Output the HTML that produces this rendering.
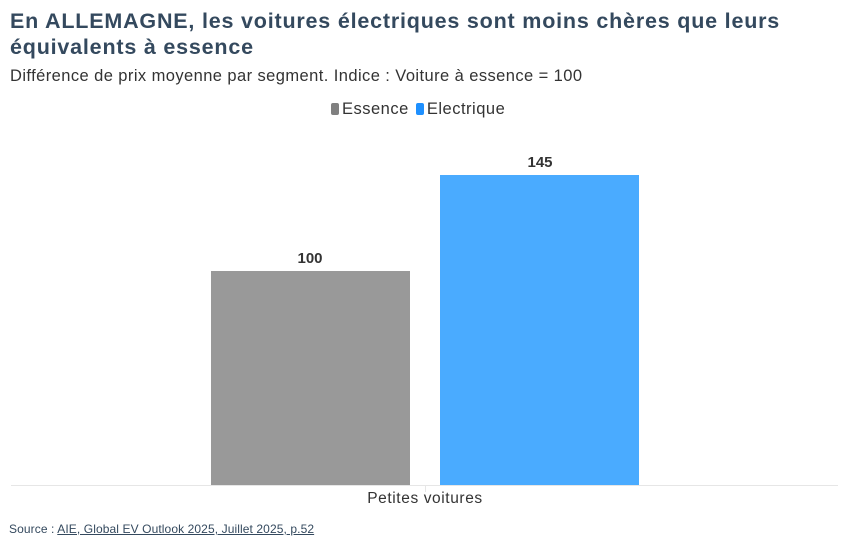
<!DOCTYPE html>
<html><head><meta charset="utf-8"><style>
body{margin:0;width:850px;height:545px;background:#fff;font-family:"Liberation Sans",sans-serif;position:relative;overflow:hidden;color:#333}
.t{position:absolute;left:10px;top:8px;font-size:21.5px;font-weight:bold;color:#34495e;line-height:26px;letter-spacing:0.8px;white-space:nowrap}
.s{position:absolute;left:10px;top:67px;font-size:16.5px;color:#333;letter-spacing:0.42px;white-space:nowrap}
.lg{position:absolute;left:331px;top:100px;font-size:16.5px;color:#333;letter-spacing:0.5px;white-space:nowrap}
.sw{display:inline-block;width:8px;height:12px;border-radius:2px;vertical-align:-1px;margin-right:3px}
.bar{position:absolute}
.v{position:absolute;font-size:15px;font-weight:bold;color:#333;text-align:center;width:200px}
.src{position:absolute;left:9px;top:522px;font-size:12px;color:#34495e;letter-spacing:0.1px;white-space:nowrap}
</style></head><body>
<div class="t">En ALLEMAGNE, les voitures électriques sont moins chères que leurs<br>équivalents à essence</div>
<div class="s">Différence de prix moyenne par segment. Indice : Voiture à essence = 100</div>
<div class="lg"><span class="sw" style="background:#808080"></span>Essence <span class="sw" style="background:#1e90ff;margin-left:2px"></span>Electrique</div>
<div class="bar" style="left:211px;top:271px;width:199px;height:215px;background:#999"></div>
<div class="bar" style="left:440px;top:175px;width:199px;height:311px;background:#4aabff"></div>
<div class="v" style="left:210px;top:250px">100</div>
<div class="v" style="left:440px;top:154px">145</div>
<div style="position:absolute;left:11px;top:485px;width:827px;height:1px;background:#e6e6e6"></div>
<div style="position:absolute;left:425px;top:486px;width:1px;height:6px;background:#e6e6e6"></div>
<div style="position:absolute;left:305px;top:490px;width:240px;text-align:center;font-size:15.5px;letter-spacing:0.6px;color:#333">Petites voitures</div>
<div class="src">Source : <u>AIE, Global EV Outlook 2025, Juillet 2025, p.52</u></div>
</body></html>
